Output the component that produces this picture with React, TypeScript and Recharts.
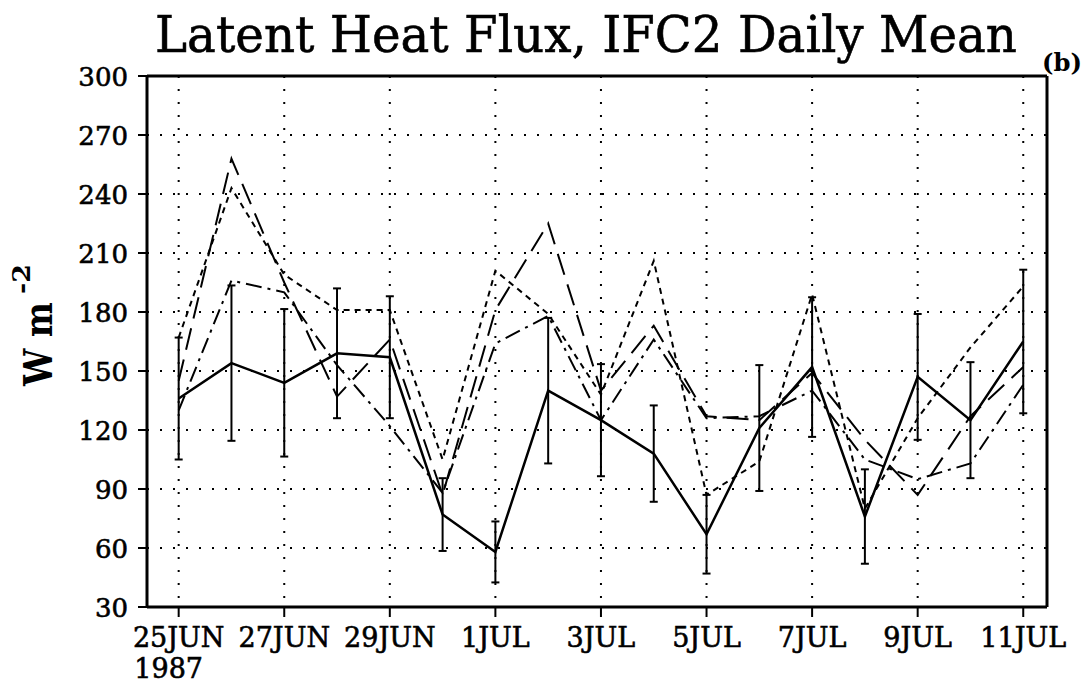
import React from 'react';
import { LineChart, Line, XAxis, YAxis, CartesianGrid, ErrorBar, ReferenceLine } from 'recharts';

// Day index 0 = 25 JUN 1987 ... 16 = 11 JUL 1987
const dayIndex = [0, 1, 2, 3, 4, 5, 6, 7, 8, 9, 10, 11, 12, 13, 14, 15, 16];
const tickDays = [0, 2, 4, 6, 8, 10, 12, 14, 16];
const tickLabels = ['25JUN', '27JUN', '29JUN', '1JUL', '3JUL', '5JUL', '7JUL', '9JUL', '11JUL'];
const yTicks = [30, 60, 90, 120, 150, 180, 210, 240, 270, 300];

// Observed daily mean (solid) and its error half-range
const observed = [136, 154, 144, 159, 157, 77, 58, 140, 125, 108, 67, 121, 152, 76, 147, 125, 165];
const observedErr = [31, 39.5, 37.5, 33, 31, 18.5, 15.5, 37, 28.5, 24.5, 20, 32, 35.5, 24, 32, 29.5, 36.5];
// Short dashed series
const shortDash = [167, 243, 199, 181, 181, 105, 201, 179, 138, 206, 87, 104, 189, 80, 126, 162, 193];
// Long dashed series
const longDash = [145, 258, 195, 137, 166, 87, 181, 225, 140, 173, 127, 125, 149, 115, 87, 127, 152];
// Dash-dot series
const dashDot = [130, 196, 190, 153, 122, 88, 164, 178, 125, 166, 126, 127, 140, 105, 95, 103, 143];

const data = dayIndex.map((d, i) => ({
  day: d,
  obs: observed[i],
  err: observedErr[i],
  sd: shortDash[i],
  ld: longDash[i],
  dd: dashDot[i],
}));

const FONT = '"DejaVu Serif", "Liberation Serif", serif';

const YTick = (props: any) => {
  const { x, y, payload } = props;
  return (
    <text x={x} y={y} dy={9.5} textAnchor="end" fontFamily={FONT} fontSize={26} fill="#000" stroke="#000" strokeWidth={0.6}>
      {payload.value}
    </text>
  );
};

const XTick = (props: any) => {
  const { x, y, payload } = props;
  const idx = tickDays.indexOf(payload.value);
  const label = idx >= 0 ? tickLabels[idx] : '';
  return (
    <g>
      <text x={x} y={y} dy={28} textAnchor="middle" fontFamily={FONT} fontSize={27} fill="#000" stroke="#000" strokeWidth={0.6}>
        {label}
      </text>
      {payload.value === 0 ? (
        <text x={x - 10} y={y} dy={59} textAnchor="middle" fontFamily={FONT} fontSize={27} fill="#000" stroke="#000" strokeWidth={0.6}>
          1987
        </text>
      ) : null}
    </g>
  );
};

export default function App() {
  return (
    <div style={{ position: 'absolute', left: 0, top: 0, width: 1088, height: 684, background: '#fff' }}>
      <LineChart
        width={1088}
        height={684}
        data={data}
        margin={{ top: 76, right: 41, bottom: 37, left: 87 }}
      >
        <CartesianGrid stroke="#000" strokeWidth={2} strokeDasharray="2 11" />
        <XAxis
          dataKey="day"
          type="number"
          domain={[-0.6, 16.45]}
          ticks={tickDays}
          height={40}
          tickSize={10}
          tickMargin={2}
          axisLine={{ stroke: '#000', strokeWidth: 3 }}
          tickLine={{ stroke: '#000', strokeWidth: 2 }}
          tick={<XTick />}
          interval={0}
          allowDataOverflow
        />
        <YAxis
          type="number"
          domain={[30, 300]}
          ticks={yTicks}
          width={60}
          tickSize={9}
          tickMargin={10}
          axisLine={{ stroke: '#000', strokeWidth: 3 }}
          tickLine={{ stroke: '#000', strokeWidth: 2 }}
          tick={<YTick />}
          interval={0}
          allowDataOverflow
        />
        <ReferenceLine y={300} stroke="#000" strokeWidth={3} />
        <ReferenceLine x={16.45} stroke="#000" strokeWidth={3} />
        <Line type="linear" dataKey="sd" stroke="#000" strokeWidth={2} strokeDasharray="6 5" dot={false} isAnimationActive={false} />
        <Line type="linear" dataKey="ld" stroke="#000" strokeWidth={2} strokeDasharray="22 10" dot={false} isAnimationActive={false} />
        <Line type="linear" dataKey="dd" stroke="#000" strokeWidth={2} strokeDasharray="16 6 3 6" dot={false} isAnimationActive={false} />
        <Line type="linear" dataKey="obs" stroke="#000" strokeWidth={2.5} dot={false} isAnimationActive={false}>
          <ErrorBar dataKey="err" direction="y" width={4} stroke="#000" strokeWidth={2} />
        </Line>
      </LineChart>
      <svg
        width={1088}
        height={684}
        style={{ position: 'absolute', left: 0, top: 0, pointerEvents: 'none' }}
      >
        <g transform="translate(155, 52) scale(1, 1.15)">
          <text x={0} y={0} fontFamily={FONT} fontSize={44} fill="#000" stroke="#000" strokeWidth={0.5} textLength={862} lengthAdjust="spacingAndGlyphs">
            Latent Heat Flux, IFC2 Daily Mean
          </text>
        </g>
        <text x={1042} y={71} fontFamily={FONT} fontSize={24} fontWeight="bold" fill="#000" textLength={40} lengthAdjust="spacingAndGlyphs">
          (b)
        </text>
        <g transform="translate(52, 386) rotate(-90)">
          <text x={0} y={0} fontFamily={FONT} fontSize={40} fontWeight="bold" fill="#000" textLength={84} lengthAdjust="spacingAndGlyphs">
            W m
          </text>
          <text x={92} y={-22} fontFamily={FONT} fontSize={24} fontWeight="bold" fill="#000" textLength={30} lengthAdjust="spacingAndGlyphs">
            -2
          </text>
        </g>
      </svg>
    </div>
  );
}
